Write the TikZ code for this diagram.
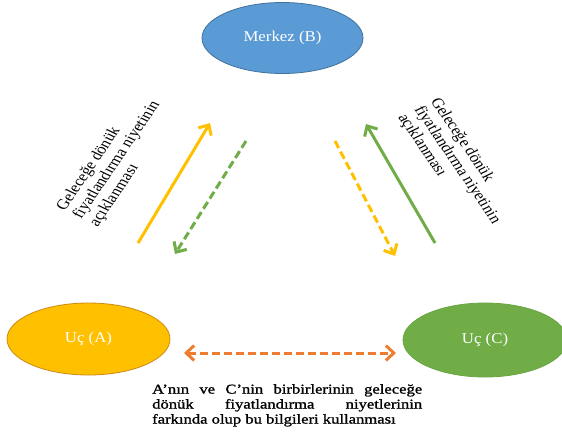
\documentclass[tikz,border=0pt]{standalone}
\usepackage{fontspec}
\setmainfont{Liberation Serif}
\newfontfamily\wideserif{Liberation Serif}[FakeStretch=1.23,FakeBold=1.2]
\newfontfamily\ovalserif{Liberation Serif}[FakeStretch=1.12]
\usetikzlibrary{shapes.geometric,arrows.meta}
\definecolor{bblue}{HTML}{5B9BD5}
\definecolor{bblueD}{HTML}{41719C}
\definecolor{yel}{HTML}{FFC000}
\definecolor{yelD}{HTML}{CC8A14}
\definecolor{grn}{HTML}{70AD47}
\definecolor{grnD}{HTML}{6AA542}
\definecolor{org}{HTML}{ED7D31}
\tikzset{
  oval/.style={ellipse, inner sep=0pt, line width=0.8pt, text=white,
    font=\ovalserif\fontsize{15}{18}\selectfont},
  rotlbl/.style={align=left, inner sep=0pt, text=black,
    font=\fontsize{14.5}{16}\selectfont},
  barb/.style={Straight Barb[length=8pt,width=15pt]},
  conn/.style={line width=3pt, -{Straight Barb[length=8pt,width=15pt]}},
  dconn/.style={conn, dash pattern=on 8pt off 4pt},
  bothconn/.style={line width=3pt, {Straight Barb[length=8pt,width=15pt]}-{Straight Barb[length=8pt,width=15pt]}, dash pattern=on 8pt off 4pt}
}
\begin{document}
\begin{tikzpicture}[x=1pt,y=-1pt]
\useasboundingbox (0,0) rectangle (562,437);
% ellipses
\node[oval, fill=bblue, draw=bblueD, minimum width=161pt, minimum height=71pt] (B) at (282.5,38) {Merkez (B)};
\node[oval, fill=yel, draw=yelD, minimum width=163pt, minimum height=72pt] (A) at (88.5,339) {Uç (A)};
\node[oval, fill=grn, draw=grnD, minimum width=164pt, minimum height=74pt] (C) at (485,340) {Uç (C)};
% rotated labels (stretched horizontally, as in the reference)
\node[rotlbl, xscale=1.18, rotate=60] (tl) at (117,160) {Geleceğe dönük\\fiyatlandırma niyetinin\\açıklanması};
\node[rotlbl, xscale=1.18, rotate=-60] (tr) at (457,165) {Geleceğe dönük\\fiyatlandırma niyetinin\\açıklanması};
% connector end points
\coordinate (y1s) at (138,243); \coordinate (y1e) at (210,123);
\coordinate (g1s) at (246,141); \coordinate (g1e) at (175,254);
\coordinate (y2s) at (335,141); \coordinate (y2e) at (395,256);
\coordinate (g2s) at (435,243); \coordinate (g2e) at (366,124);
\coordinate (oL) at (184,353); \coordinate (oR) at (396,353);
% connectors
\draw[conn, yel] (y1s) -- (y1e);
\draw[dconn, grn] (g1s) -- (g1e);
\draw[dconn, yel] (y2s) -- (y2e);
\draw[conn, grn] (g2s) -- (g2e);
\draw[bothconn, org] (oL) -- (oR);
% bottom text
\node[anchor=north west, inner sep=0pt, text width=270pt, align=justify,
  font=\wideserif\fontsize{13.5}{15}\selectfont] (txt) at (152,384)
  {A’nın ve C’nin birbirlerinin geleceğe\linebreak dönük fiyatlandırma niyetlerinin\linebreak farkında olup bu bilgileri kullanması};
\end{tikzpicture}
\end{document}
